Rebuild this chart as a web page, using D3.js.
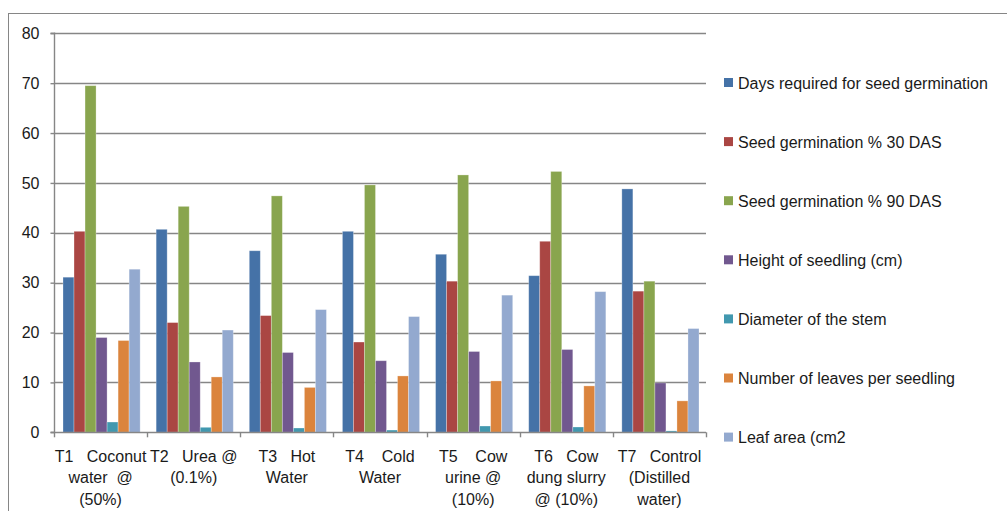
<!DOCTYPE html>
<html>
<head>
<meta charset="utf-8">
<script src="https://cdn.jsdelivr.net/npm/d3@7"></script>
<style>
  html, body { margin: 0; padding: 0; background: #fff; }
  svg { display: block; }
  text { font-family: "Liberation Sans", Arial, sans-serif; fill: #1a1a1a; }
</style>
</head>
<body>
<svg id="chart" width="1007" height="511"></svg>
<script>
// Treatments (x categories), one label line per entry
const categories = ["T1", "T2", "T3", "T4", "T5", "T6", "T7"];
const categoryLines = [
  ["T1   Coconut", "water  @", "(50%)"],
  ["T2   Urea @", "(0.1%)"],
  ["T3   Hot", "Water"],
  ["T4    Cold", "Water"],
  ["T5    Cow", "urine @", "(10%)"],
  ["T6   Cow", "dung slurry", "@ (10%)"],
  ["T7   Control", "(Distilled", "water)"]
];

// Measured parameters (series)
const seriesNames = [
  "Days required for seed germination",
  "Seed germination % 30 DAS",
  "Seed germination % 90 DAS",
  "Height of seedling (cm)",
  "Diameter of the stem",
  "Number of leaves per seedling",
  "Leaf area (cm2"
];
const seriesColors = ["#4572A7", "#AA4643", "#89A54E", "#71588F", "#4198AF", "#DB843D", "#93A9CF"];

// Values per series, in treatment order T1..T7
const daysGermination = [31.1, 40.7, 36.4, 40.3, 35.7, 31.4, 48.8];
const germination30   = [40.3, 22.0, 23.4, 18.1, 30.3, 38.3, 28.3];
const germination90   = [69.5, 45.3, 47.4, 49.6, 51.6, 52.3, 30.3];
const seedlingHeight  = [19.0, 14.1, 16.0, 14.35, 16.2, 16.6, 9.9];
const stemDiameter    = [2.06, 1.0, 0.86, 0.45, 1.26, 1.06, 0.28];
const leavesPerPlant  = [18.4, 11.1, 9.0, 11.3, 10.3, 9.3, 6.3];
const leafArea        = [32.7, 20.5, 24.6, 23.2, 27.5, 28.2, 20.8];

const yTicks = [0, 10, 20, 30, 40, 50, 60, 70, 80];

const seriesValues = [daysGermination, germination30, germination90, seedlingHeight,
                      stemDiameter, leavesPerPlant, leafArea];

const svg = d3.select("#chart");
const gridColor = "#868686";
const fontSize = 16;

// Outer chart frame
svg.append("rect")
  .attr("x", 8.5).attr("y", 13.5)
  .attr("width", 1010).attr("height", 510)
  .attr("fill", "none").attr("stroke", gridColor).attr("stroke-width", 1);

const plot = { left: 54, right: 706, top: 33.3, bottom: 432.3 };

const y = d3.scaleLinear().domain([0, 80]).range([plot.bottom, plot.top]);
const x0 = d3.scaleBand().domain(categories).range([plot.left, plot.right]).padding(0);
const bw = x0.bandwidth();
const x1 = d3.scaleBand().domain(seriesNames).range([9, bw - 7]).padding(0);

// Horizontal gridlines
svg.append("g").selectAll("line")
  .data(yTicks.filter(t => t > 0))
  .join("line")
  .attr("x1", plot.left).attr("x2", plot.right)
  .attr("y1", d => Math.round(y(d)) + 0.5).attr("y2", d => Math.round(y(d)) + 0.5)
  .attr("stroke", gridColor).attr("stroke-width", 1.4);

// Bars
const rows = categories.map((c, i) => ({ cat: c, vals: seriesNames.map((s, j) => ({ s, j, v: seriesValues[j][i] })) }));
const groups = svg.append("g").selectAll("g")
  .data(rows).join("g")
  .attr("transform", d => `translate(${x0(d.cat)},0)`);
groups.selectAll("rect")
  .data(d => d.vals).join("rect")
  .attr("x", d => x1(d.s))
  .attr("width", x1.bandwidth())
  .attr("y", d => y(d.v))
  .attr("height", d => y(0) - y(d.v))
  .attr("fill", d => seriesColors[d.j])
  .attr("stroke", "rgba(255,255,255,0.35)")
  .attr("stroke-width", 0.8);

// Y axis
const yAxis = d3.axisLeft(y).tickValues(yTicks).tickSize(4).tickPadding(11).tickFormat(d3.format("d"));
const gy = svg.append("g").attr("transform", `translate(${plot.left + 0.5},0)`).call(yAxis);
gy.select(".domain").attr("stroke", gridColor).attr("stroke-width", 1.4).attr("d", `M-4,${y(80)}H0V${y(0)}H-4`);
gy.selectAll(".tick line").attr("stroke", gridColor).attr("stroke-width", 1.4);
gy.selectAll(".tick text").attr("font-size", fontSize).attr("fill", "#1a1a1a")
  .attr("font-family", "Liberation Sans, Arial, sans-serif");

// X axis (baseline with ticks at category boundaries)
const gx = svg.append("g");
gx.append("line")
  .attr("x1", plot.left).attr("x2", plot.right)
  .attr("y1", Math.round(y(0)) + 0.5).attr("y2", Math.round(y(0)) + 0.5)
  .attr("stroke", gridColor).attr("stroke-width", 1.4);
gx.selectAll("line.bt")
  .data(categories.map(c => x0(c) + bw).concat([plot.left]))
  .join("line").attr("class", "bt")
  .attr("x1", d => Math.round(d) + 0.5).attr("x2", d => Math.round(d) + 0.5)
  .attr("y1", y(0)).attr("y2", y(0) + 5)
  .attr("stroke", gridColor).attr("stroke-width", 1.4);

// Category labels
const lab = svg.append("g").selectAll("text")
  .data(categories.map((c, i) => ({ c, lines: categoryLines[i] })))
  .join("text")
  .attr("text-anchor", "middle")
  .attr("font-size", fontSize)
  .attr("xml:space", "preserve")
  .style("white-space", "pre");
lab.selectAll("tspan")
  .data(d => d.lines.map(l => ({ l, c: d.c })))
  .join("tspan")
  .attr("x", d => x0(d.c) + bw / 2)
  .attr("y", (d, i) => 462 + i * 21.3)
  .text(d => d.l);

// Legend
const legend = svg.append("g").selectAll("g")
  .data(seriesNames).join("g")
  .attr("transform", (d, i) => `translate(724,${82.5 + i * 59.1})`);
legend.append("rect")
  .attr("x", 0).attr("y", -4.5).attr("width", 9).attr("height", 9)
  .attr("fill", (d, i) => seriesColors[i]);
legend.append("text")
  .attr("x", 14).attr("y", 6)
  .attr("font-size", fontSize)
  .text(d => d);
</script>
</body>
</html>
